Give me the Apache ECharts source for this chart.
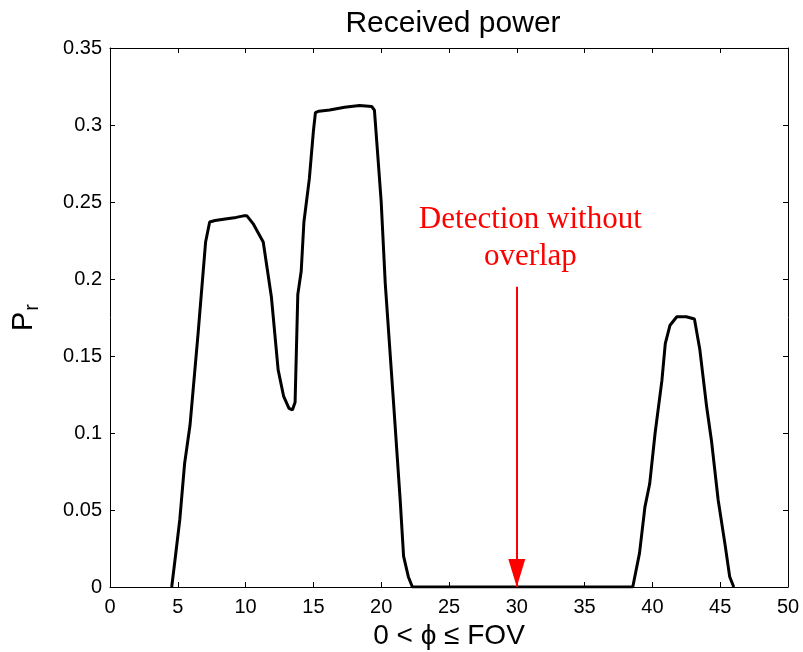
<!DOCTYPE html>
<html>
<head>
<meta charset="utf-8">
<script src="https://cdn.jsdelivr.net/npm/echarts@6/dist/echarts.min.js"></script>
<style>
  html, body { margin: 0; padding: 0; background: #fff; }
  #chart { width: 803px; height: 652px; }
</style>
</head>
<body>
<div id="chart"></div>
<script>
// Field-of-view angle (deg) and received power samples
const phi = [4.55, 4.8, 5.15, 5.5, 5.9, 6.5, 7.05, 7.35, 7.75, 8.5, 9.3, 9.85, 10.1, 10.55, 11.3, 11.9, 12.4, 12.8,
  13.2, 13.45, 13.65, 13.85, 14.1, 14.3, 14.7, 15.0, 15.15, 15.4, 16.2, 17.3, 18.4, 19.3, 19.5, 19.75, 20.0, 20.3,
  20.9, 21.4, 21.65, 22.0, 22.3, 38.55, 39.05, 39.45, 39.8, 40.2, 40.7, 40.95, 41.3, 41.8, 42.5, 43.1, 43.5, 44.0,
  44.35, 44.85, 45.35, 45.7, 46.0];
const power = [0, 0.018, 0.044, 0.08, 0.105, 0.165, 0.224, 0.237, 0.238, 0.239, 0.240, 0.241, 0.241, 0.236, 0.224,
  0.1885, 0.141, 0.124, 0.116, 0.115, 0.12, 0.19, 0.205, 0.237, 0.265, 0.296, 0.308, 0.309, 0.3097, 0.3115, 0.3126,
  0.312, 0.3097, 0.28, 0.25, 0.197, 0.121, 0.0565, 0.02, 0.0067, 0, 0, 0.022, 0.052, 0.067, 0.1, 0.134, 0.158, 0.17,
  0.1755, 0.1755, 0.174, 0.154, 0.117, 0.0955, 0.0565, 0.028, 0.0067, 0];

// Axis ticks
const xTicks = [0, 5, 10, 15, 20, 25, 30, 35, 40, 45, 50];
const yTicks = [0, 0.05, 0.1, 0.15, 0.2, 0.25, 0.3, 0.35];

// Annotation: arrow from (30, 0.195) down to (30, 0)
const arrowX = 30;
const arrowTop = 0.195;
const noteText = 'Detection without\noverlap';
const notePos = [31.0, 0.2263];

const font = '"Liberation Sans", Arial, Helvetica, sans-serif';
const chart = echarts.init(document.getElementById('chart'), null, { renderer: 'canvas' });

// Box-style axes: line on every side, ticks pointing into the plot
const frameAxis = {
  axisLine: { show: true, onZero: false, lineStyle: { color: '#000', width: 1 } },
  axisTick: { show: true, inside: true, length: 5, lineStyle: { color: '#000' } },
  splitLine: { show: false }
};

chart.setOption({
  animation: false,
  backgroundColor: '#fff',
  title: {
    text: 'Received power',
    left: 448, top: 4, textAlign: 'center',
    textStyle: { fontFamily: font, fontSize: 30, fontWeight: 'normal', color: '#000' }
  },
  grid: { left: 110, right: 15, top: 48, bottom: 65, outerBoundsMode: 'none', containLabel: false },
  xAxis: [
    Object.assign({
      type: 'value', min: xTicks[0], max: xTicks[xTicks.length - 1], interval: 5,
      position: 'bottom',
      axisLabel: { fontFamily: font, fontSize: 20, color: '#000', margin: 10 },
      name: '0 < \u03d5 \u2264 FOV', nameLocation: 'middle', nameGap: 34,
      nameTextStyle: { fontFamily: font, fontSize: 28, color: '#000', verticalAlign: 'top' }
    }, frameAxis),
    Object.assign({
      type: 'value', min: xTicks[0], max: xTicks[xTicks.length - 1], interval: 5,
      position: 'top', axisLabel: { show: false }
    }, frameAxis)
  ],
  yAxis: [
    Object.assign({
      type: 'value', min: yTicks[0], max: yTicks[yTicks.length - 1], interval: 0.05,
      position: 'left',
      axisLabel: { fontFamily: font, fontSize: 20, color: '#000', margin: 8,
        formatter: v => (v === 0 ? '0' : String(+v.toFixed(2))) },
      name: '{p|P}{r|r}', nameLocation: 'middle', nameGap: 68,
      nameTextStyle: {
        fontFamily: font, color: '#000',
        rich: {
          p: { fontFamily: font, fontSize: 29, color: '#000' },
          r: { fontFamily: font, fontSize: 20, color: '#000', padding: [16, 0, 0, 1] }
        }
      }
    }, frameAxis),
    Object.assign({
      type: 'value', min: yTicks[0], max: yTicks[yTicks.length - 1], interval: 0.05,
      position: 'right', axisLabel: { show: false }
    }, frameAxis)
  ],
  series: [
    {
      type: 'line',
      data: phi.map((x, i) => [x, power[i]]),
      showSymbol: false,
      symbol: 'none',
      lineStyle: { color: '#000', width: 3 },
      z: 3,
      markLine: {
        silent: true,
        symbol: ['none', 'triangle'],
        symbolSize: [17, 28],
        // shift the head back along the line so its tip sits on the end point
        symbolOffset: [[0, 0], [0, 14]],
        label: { show: false },
        lineStyle: { color: '#ff0000', width: 2, type: 'solid' },
        data: [[{ coord: [arrowX, arrowTop] }, { coord: [arrowX, 0] }]]
      },
      markPoint: {
        silent: true,
        symbol: 'circle',
        symbolSize: 0,
        data: [{ coord: notePos }],
        label: {
          show: true,
          formatter: noteText,
          fontFamily: '"Liberation Serif", "DejaVu Serif", serif',
          fontSize: 31,
          lineHeight: 37,
          color: '#ff0000',
          align: 'center',
          verticalAlign: 'middle'
        }
      }
    }
  ]
});
</script>
</body>
</html>
